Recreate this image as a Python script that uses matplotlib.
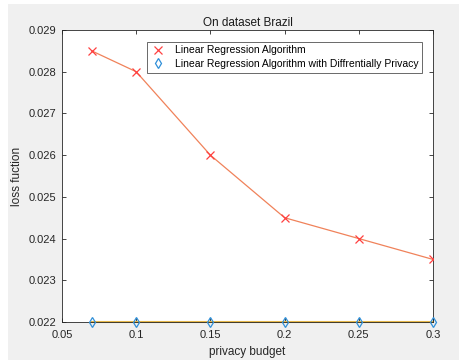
import numpy as np
from matplotlib import pyplot as plt
from matplotlib.patches import Rectangle

# Data
budget = [0.07, 0.1, 0.15, 0.2, 0.25, 0.3]
loss_lr = [0.0285, 0.028, 0.026, 0.0245, 0.024, 0.0235]
loss_dp = [0.022, 0.022, 0.022, 0.022, 0.022, 0.022]
xticks = [0.05, 0.1, 0.15, 0.2, 0.25, 0.3]
yticks = [0.022, 0.023, 0.024, 0.025, 0.026, 0.027, 0.028, 0.029]

plt.rcParams['font.family'] = ['Liberation Sans', 'DejaVu Sans']

fig = plt.figure(figsize=(4.59, 3.60), dpi=100, facecolor='#f0f0f0')
# thin white strip on top and left, like the screenshot
fig.patches.append(Rectangle((0, 1 - 4 / 360), 1, 4 / 360, transform=fig.transFigure,
                             facecolor='white', edgecolor='none', zorder=0))
fig.patches.append(Rectangle((0, 0), 8 / 459, 1, transform=fig.transFigure,
                             facecolor='white', edgecolor='none', zorder=0))

ax = fig.add_axes([62 / 459, 1 - 322 / 360, (433 - 62) / 459, (322 - 30) / 360])
ax.set_facecolor('white')

ax.plot(budget, loss_lr, color='#f0825a', lw=0.9, zorder=2)
ax.plot(budget, loss_dp, color='#e6b84a', lw=1.5, zorder=2, clip_on=False)
ax.plot(budget, loss_lr, 'x', color='#ff4040', ms=6, mew=0.9, ls='none',
        label='Linear Regression Algorithm', zorder=3)
ax.plot(budget, loss_dp, 'd', color='#2f8fd8', mfc='none', ms=5, mew=0.9, ls='none',
        label='Linear Regression Algorithm with Diffrentially Privacy', zorder=4, clip_on=False)

ax.set_xlim(0.05, 0.3)
ax.set_ylim(0.022, 0.029)
ax.set_xticks(xticks)
ax.set_xticklabels(['0.05', '0.1', '0.15', '0.2', '0.25', '0.3'])
ax.set_yticks(yticks)
ax.set_yticklabels([f'{v:.3f}' for v in yticks])
ax.tick_params(direction='in', length=3, width=0.6, colors='#262626', labelsize=8,
               top=True, right=True)
ax.tick_params(axis='x', pad=6)
ax.tick_params(axis='y', pad=4)
for s in ax.spines.values():
    s.set_color('#262626')
    s.set_linewidth(0.6)

ax.set_title('On dataset Brazil', fontsize=8.5, color='#1a1a1a', pad=3)
ax.set_xlabel('privacy budget', fontsize=8.5, color='#262626', labelpad=4)
ax.set_ylabel('loss fuction', fontsize=8.5, color='#262626', labelpad=4)

leg = ax.legend(loc='upper right', bbox_to_anchor=(0.970, 0.96), fontsize=7.5,
                frameon=True, fancybox=False, borderpad=0.35, labelspacing=0.35,
                handletextpad=0.8, handlelength=1.5, borderaxespad=0)
leg.get_frame().set_edgecolor('#262626')
leg.get_frame().set_linewidth(0.6)

fig.savefig('out.png', dpi=100, facecolor=fig.get_facecolor())
